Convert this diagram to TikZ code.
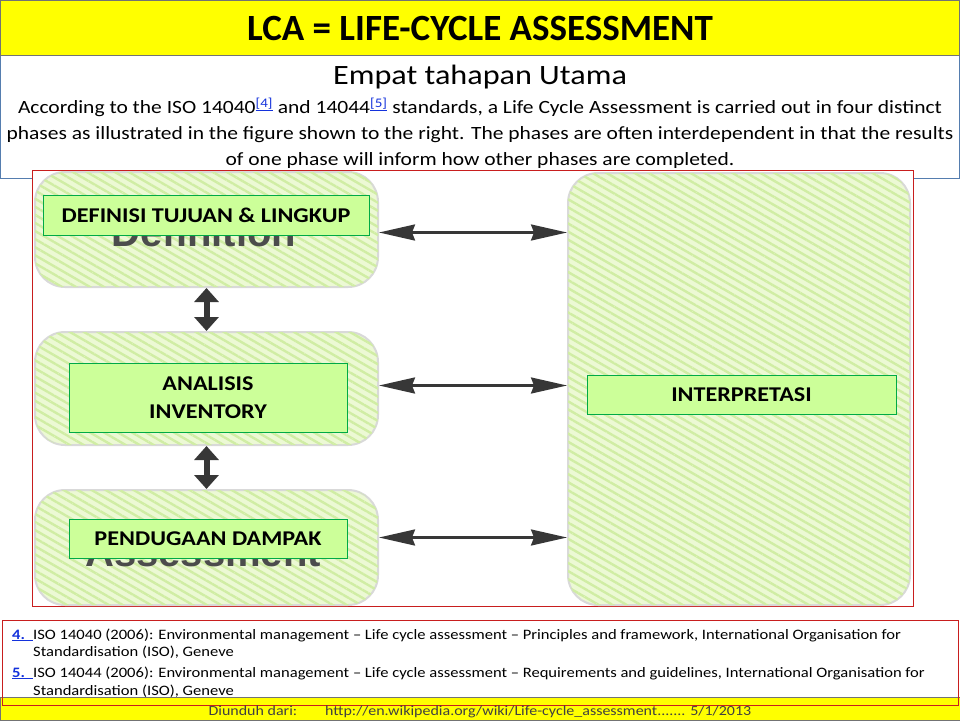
\documentclass[tikz,border=0pt]{standalone}
\usepackage{fontspec}
\setmainfont{Carlito}[FakeStretch=1.15]
\newfontfamily\titlefont{Carlito}
\newfontfamily\arialbold[BoldFont={Liberation Sans Bold}]{Liberation Sans}
\usetikzlibrary{arrows.meta,patterns.meta,positioning}
\definecolor{bandyellow}{RGB}{255,255,0}
\definecolor{hatchgreen}{RGB}{236,249,212}
\definecolor{stripegreen}{RGB}{208,237,164}
\definecolor{labelgreen}{RGB}{204,255,153}
\definecolor{labelborder}{RGB}{0,170,70}
\definecolor{framered}{RGB}{200,30,30}
\definecolor{frameblue}{RGB}{85,125,175}
\definecolor{arrowgray}{RGB}{55,55,55}
\definecolor{linkblue}{RGB}{20,50,220}
\begin{document}
\begin{tikzpicture}
            [x=1pt, y=-1pt,
        phase/.style={rounded corners=30pt, draw=black!15, line width=2pt, fill=hatchgreen,
            postaction={pattern={Lines[angle=-30,distance=7pt,line width=2.4pt]}, pattern color=stripegreen}},
        phaseText/.style={draw=labelborder, fill=labelgreen, inner sep=0pt, align=center,
            font=\bfseries\fontsize{21}{28}\selectfont},
        blurWord/.style={anchor=base, text=black!70, font=\arialbold\bfseries\fontsize{40}{40}\selectfont},
        hLink/.style={draw=arrowgray, line width=2.4pt,
            {Stealth[length=36pt,width=16pt,inset=3pt]}-{Stealth[length=36pt,width=16pt,inset=3pt]}},
        vLink/.style={draw=arrowgray, line width=6pt,
            {Triangle[length=14pt,width=24pt]}-{Triangle[length=14pt,width=24pt]}},
        refText/.style={anchor=base west, inner sep=0pt, font=\fontsize{14.4}{17}\selectfont},
        refNum/.style={anchor=base west, inner sep=0pt, text=linkblue, font=\bfseries\fontsize{14.4}{17}\selectfont}]
            \useasboundingbox (0,0) rectangle (960,720);
            \fill[white] (0,0) rectangle (960,720);

            % header
            \draw[frameblue, line width=1pt] (0.5,55) rectangle (959.5,178);
            \draw[fill=bandyellow, draw=black!55, line width=1pt] (0.5,0.5) rectangle (959.5,55);
            \node[font=\titlefont\bfseries\fontsize{37}{40}\selectfont] (title) at (480,28) {LCA = LIFE-CYCLE ASSESSMENT};
            \node[font=\fontsize{28}{30}\selectfont] (subtitle) at (480,77) {Empat tahapan Utama};
            \node[align=center, inner sep=0pt, font=\fontsize{18.7}{26}\selectfont] (intro) at (480,133)
                {According to the ISO 14040\textsuperscript{\color{linkblue}\underline{[4]}} and 14044\textsuperscript{\color{linkblue}\underline{[5]}} standards, a Life Cycle Assessment is carried out in four distinct\\
                 phases as illustrated in the figure shown to the right. The phases are often interdependent in that the results\\
                 of one phase will inform how other phases are completed.};

            % figure
            \draw[framered, fill=white, line width=1pt] (32,170) rectangle (913,606);
            \node[phase, minimum width=343, minimum height=115] (goal) at (206.5,229.5) {};
            \node[phase, minimum width=343, minimum height=113] (inv) at (206.5,388.5) {};
            \node[phase, minimum width=343, minimum height=115] (imp) at (206.5,547.5) {};
            \node[phase, minimum width=342, minimum height=432] (interp) at (739,389) {};
            \node[blurWord] (defWord) at (204,246) {Definition};
            \node[blurWord] (assWord) at (203,566) {Assessment};

            \draw[vLink] (goal.south) -- (inv.north);
            \draw[vLink] (inv.south) -- (imp.north);
            \draw[hLink] ([yshift=-3pt]goal.east) -- ([yshift=-3pt]goal.east -| interp.west);
            \draw[hLink] ([yshift=3pt]inv.east) -- ([yshift=3pt]inv.east -| interp.west);
            \draw[hLink] ([yshift=10pt]imp.east) -- ([yshift=10pt]imp.east -| interp.west);

            \node[phaseText, minimum width=326, minimum height=40] (goalText) at (206,215) {DEFINISI TUJUAN \& LINGKUP};
            \node[phaseText, minimum width=278, minimum height=69] (invText) at (208,397.5) {ANALISIS\\INVENTORY};
            \node[phaseText, minimum width=278, minimum height=39] (impText) at (208,538.5) {PENDUGAAN DAMPAK};
            \node[phaseText, minimum width=309, minimum height=39] (interpText) at (741.5,394.5) {INTERPRETASI};

            % references and footer
            \draw[fill=bandyellow, draw=black!55, line width=0.8pt] (0,697) rectangle (960,720);
            \draw[framered, line width=1pt] (2,620) rectangle (958,705);
            \node[refNum] (num4) at (12,639) {\underline{4.\hspace{8pt}}};
            \node[refText] (ref4a) at (33,639) {ISO 14040 (2006): Environmental management -- Life cycle assessment -- Principles and framework, International Organisation for};
            \node[refText] (ref4b) at (33,656) {Standardisation (ISO), Geneve};
            \node[refNum] (num5) at (12,677) {\underline{5.\hspace{8pt}}};
            \node[refText] (ref5a) at (33,677) {ISO 14044 (2006): Environmental management -- Life cycle assessment -- Requirements and guidelines, International Organisation for};
            \node[refText] (ref5b) at (33,695) {Standardisation (ISO), Geneve};
            \node[anchor=base, inner sep=0pt, text=black!75, font=\fontsize{13.9}{16}\selectfont] (source) at (480,715)
                {Diunduh dari:\hspace{28pt}http://en.wikipedia.org/wiki/Life-cycle\_assessment....... 5/1/2013};
        \end{tikzpicture}
\end{document}
